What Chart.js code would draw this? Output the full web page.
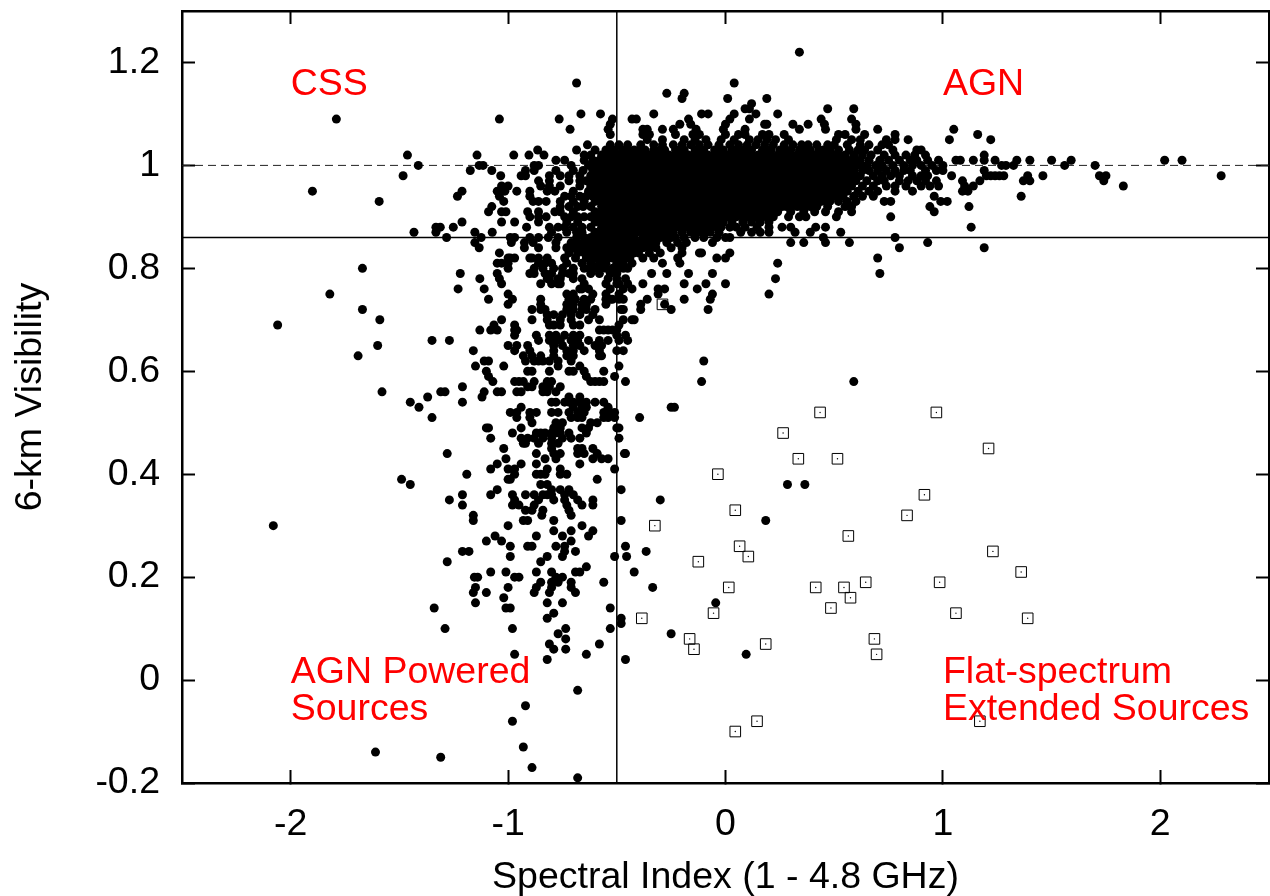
<!DOCTYPE html>
<html>
<head>
<meta charset="utf-8">
<style>
  html, body { margin: 0; padding: 0; background: #fff; overflow: hidden; }
  #wrap { width: 1270px; height: 896px; }
</style>
<script src="https://cdn.jsdelivr.net/npm/chart.js@4/dist/chart.umd.min.js"></script>
</head>
<body>
<div id="wrap"><canvas id="c" width="1270" height="896"></canvas></div>
<script>
const xTicks = [-2, -1, 0, 1, 2];
const yTicks = [-0.2, 0, 0.2, 0.4, 0.6, 0.8, 1, 1.2];

// cut lines and the unit visibility line
const cutIndex = -0.5;
const cutVisibility = 0.86;
const unitVisibility = 1;

const regionNames = ['CSS', 'AGN', 'AGN Powered', 'Sources', 'Flat-spectrum', 'Extended Sources'];
const regionX = [-2, 1, -2, -2, 1, 1];
const regionY = [1.156, 1.156, 0.014, -0.058, 0.014, -0.058];

// open squares: flat spectrum extended sources
const flatX = [-0.29, 0.435, 0.97, 0.265, 1.21, 0.335, 0.515, -0.035, 0.915, 0.835, 0.045, -0.325, 0.565, 0.065, 1.23, 0.105, -0.125, 1.36, 0.645, 0.985, 0.015, 0.415, 0.545, 0.575, 0.485, -0.055, 1.06, -0.385, 1.39, 0.685, -0.165, 0.185, -0.145, 0.695, 0.145, 1.17, 0.045];
const flatY = [0.73, 0.52, 0.52, 0.48, 0.45, 0.43, 0.43, 0.40, 0.36, 0.32, 0.33, 0.30, 0.28, 0.26, 0.25, 0.24, 0.23, 0.21, 0.19, 0.19, 0.18, 0.18, 0.18, 0.16, 0.14, 0.13, 0.13, 0.12, 0.12, 0.08, 0.08, 0.07, 0.06, 0.05, -0.08, -0.08, -0.10];

// filled dots, one row per visibility value: [visibility, [spectral indices]]
const dotRows = [
  [1.22, [0.34]],
  [1.16, [-0.685, 0.04]],
  [1.14, [-0.27, -0.19]],
  [1.13, [-0.20, 0.01, 0.19]],
  [1.12, [0.12]],
  [1.11, [0.09, 0.11, 0.47, 0.59]],
  [1.10, [-0.665, -0.575, -0.33, -0.11, -0.08, 0.04, 0.14, 0.24]],
  [1.09, [-1.79, -1.04, -0.765, -0.52, -0.43, -0.41, -0.17, 0.02, 0.11, 0.44, 0.58]],
  [1.08, [-0.53, -0.21, -0.16, 0.0, 0.18, 0.19, 0.31, 0.38, 0.455, 0.60]],
  [1.07, [-0.715, -0.54, -0.38, -0.36, -0.29, -0.24, -0.135, -0.01, 0.09, 0.34, 0.46, 0.60, 0.70, 1.05]],
  [1.06, [-0.53, -0.38, -0.35, -0.23, -0.15, -0.12, 0.0, 0.06, 0.09, 0.17, 0.20, 0.27, 0.52, 0.55, 0.64, 0.78, 1.16]],
  [1.05, [-0.36, -0.29, -0.19, -0.14, -0.09, -0.02, 0.04, 0.11, 0.15, 0.19, 0.23, 0.29, 0.51, 0.58, 0.62, 0.74, 0.78, 0.84, 1.03, 1.22]],
  [1.04, [-0.53, -0.635, -0.49, -0.45, -0.39, -0.33, -0.29, -0.24, -0.2, -0.16, -0.12, -0.08, -0.03, 0.02, 0.06, 0.1, 0.14, 0.18, 0.22, 0.27, 0.31, 0.35, 0.38, 0.42, 0.47, 0.5, 0.56, 0.62, 0.66, 0.72, 0.75]],
  [1.03, [-0.864, -0.685, -0.6, -0.55, -0.51, -0.47, -0.42, -0.37, -0.33, -0.28, -0.23, -0.19, -0.14, -0.1, -0.05, -0.01, 0.03, 0.08, 0.12, 0.17, 0.21, 0.25, 0.3, 0.34, 0.39, 0.43, 0.48, 0.52, 0.57, 0.61, 0.64, 0.7, 0.77, 0.88, 0.9]],
  [1.02, [-1.463, -1.143, -0.974, -0.904, -0.835, -0.65, -0.62, -0.57, -0.53, -0.49, -0.44, -0.4, -0.35, -0.31, -0.26, -0.21, -0.17, -0.12, -0.08, -0.03, 0.01, 0.06, 0.1, 0.15, 0.19, 0.24, 0.28, 0.33, 0.37, 0.41, 0.46, 0.5, 0.55, 0.59, 0.63, 0.67, 0.73, 0.78, 0.83, 0.87, 0.92, 1.19]],
  [1.01, [-0.78, -0.74, -0.65, -0.61, -0.58, -0.54, -0.5, -0.45, -0.41, -0.36, -0.32, -0.27, -0.23, -0.18, -0.14, -0.09, -0.05, 0.0, 0.04, 0.09, 0.13, 0.18, 0.22, 0.26, 0.31, 0.35, 0.4, 0.44, 0.49, 0.53, 0.58, 0.62, 0.66, 0.71, 0.75, 0.8, 0.85, 0.88, 0.93, 0.98, 1.06, 1.08, 1.14, 1.19, 1.24, 1.34, 1.40, 1.50, 1.59, 2.02, 2.10]],
  [1.00, [-1.413, -1.133, -1.115, -0.88, -0.86, -0.71, -0.63, -0.6, -0.56, -0.52, -0.47, -0.43, -0.38, -0.34, -0.29, -0.25, -0.2, -0.16, -0.11, -0.07, -0.02, 0.02, 0.07, 0.11, 0.16, 0.2, 0.24, 0.29, 0.33, 0.38, 0.42, 0.47, 0.51, 0.56, 0.6, 0.65, 0.69, 0.72, 0.77, 0.82, 0.86, 0.9, 0.95, 1.0, 1.27, 1.29, 1.325, 1.56, 1.70]],
  [0.99, [-1.174, -1.075, -0.92, -0.88, -0.78, -0.70, -0.655, -0.61, -0.57, -0.53, -0.48, -0.44, -0.39, -0.35, -0.3, -0.26, -0.21, -0.17, -0.12, -0.08, -0.03, 0.01, 0.06, 0.1, 0.14, 0.19, 0.23, 0.28, 0.32, 0.37, 0.41, 0.46, 0.5, 0.55, 0.59, 0.63, 0.66, 0.7, 0.74, 0.78, 0.82, 0.85, 0.92, 0.97, 1.0, 1.19]],
  [0.98, [-1.483, -1.034, -0.94, -0.92, -0.81, -0.76, -0.72, -0.67, -0.62, -0.58, -0.54, -0.5, -0.45, -0.41, -0.36, -0.32, -0.27, -0.23, -0.18, -0.14, -0.09, -0.05, 0.0, 0.04, 0.08, 0.13, 0.17, 0.22, 0.26, 0.31, 0.35, 0.4, 0.44, 0.49, 0.53, 0.57, 0.62, 0.68, 0.72, 0.76, 0.8, 0.86, 0.9, 0.93, 1.04, 1.20, 1.22, 1.24, 1.26, 1.28, 1.39, 1.46, 1.72, 1.75, 2.28]],
  [0.97, [-0.86, -0.81, -0.72, -0.67, -0.64, -0.59, -0.55, -0.51, -0.46, -0.42, -0.37, -0.33, -0.28, -0.24, -0.19, -0.15, -0.1, -0.06, -0.01, 0.03, 0.07, 0.12, 0.16, 0.21, 0.25, 0.3, 0.34, 0.39, 0.43, 0.47, 0.52, 0.56, 0.6, 0.65, 0.7, 0.73, 0.8, 0.84, 0.88, 0.92, 0.97, 1.09, 1.17, 1.37, 1.40, 1.74]],
  [0.96, [-1.03, -1.0, -0.85, -0.81, -0.76, -0.67, -0.62, -0.57, -0.53, -0.48, -0.44, -0.39, -0.35, -0.3, -0.26, -0.21, -0.17, -0.12, -0.08, -0.03, 0.01, 0.05, 0.1, 0.14, 0.19, 0.23, 0.28, 0.32, 0.37, 0.41, 0.45, 0.5, 0.54, 0.58, 0.63, 0.68, 0.74, 0.78, 0.83, 0.9, 0.94, 0.98, 1.10, 1.14, 1.83]],
  [0.95, [-1.90, -1.212, -1.05, -1.015, -0.96, -0.90, -0.82, -0.785, -0.70, -0.63, -0.59, -0.55, -0.5, -0.46, -0.41, -0.37, -0.32, -0.28, -0.23, -0.19, -0.14, -0.1, -0.05, -0.01, 0.04, 0.08, 0.12, 0.17, 0.21, 0.26, 0.3, 0.35, 0.39, 0.43, 0.48, 0.52, 0.56, 0.61, 0.66, 0.7, 0.78, 0.86, 1.09, 1.115]],
  [0.94, [-1.233, -1.04, -0.90, -0.74, -0.67, -0.61, -0.57, -0.52, -0.48, -0.43, -0.39, -0.34, -0.3, -0.25, -0.21, -0.16, -0.12, -0.07, -0.03, 0.02, 0.06, 0.11, 0.15, 0.19, 0.24, 0.28, 0.33, 0.37, 0.42, 0.46, 0.5, 0.54, 0.59, 0.63, 0.68, 0.96, 1.36]],
  [0.93, [-1.593, -1.02, -0.885, -0.86, -0.825, -0.76, -0.70, -0.65, -0.6, -0.55, -0.5, -0.46, -0.41, -0.37, -0.32, -0.28, -0.23, -0.19, -0.14, -0.1, -0.05, -0.01, 0.04, 0.08, 0.13, 0.17, 0.22, 0.26, 0.31, 0.35, 0.4, 0.44, 0.48, 0.52, 0.56, 0.6, 0.73, 0.76, 0.99, 1.02]],
  [0.92, [-1.075, -0.76, -0.655, -0.62, -0.57, -0.53, -0.48, -0.44, -0.39, -0.35, -0.3, -0.26, -0.21, -0.17, -0.12, -0.08, -0.03, 0.01, 0.06, 0.1, 0.15, 0.19, 0.24, 0.28, 0.33, 0.37, 0.42, 0.47, 0.55, 0.58, 0.94, 1.12]],
  [0.91, [-1.09, -1.03, -1.01, -0.91, -0.86, -0.785, -0.76, -0.7, -0.6, -0.55, -0.51, -0.46, -0.42, -0.37, -0.33, -0.28, -0.24, -0.19, -0.15, -0.1, -0.06, -0.01, 0.03, 0.08, 0.12, 0.17, 0.21, 0.24, 0.3, 0.36, 0.41, 0.46, 0.52, 0.58, 0.96]],
  [0.90, [-0.90, -0.86, -0.825, -0.68, -0.62, -0.57, -0.53, -0.48, -0.44, -0.39, -0.35, -0.3, -0.26, -0.21, -0.17, -0.12, -0.08, -0.03, 0.01, 0.05, 0.1, 0.14, 0.19, 0.22, 0.29, 0.34, 0.37, 0.51, 0.76]],
  [0.89, [-1.212, -1.03, -0.97, -0.86, -0.73, -0.68, -0.6, -0.55, -0.5, -0.46, -0.41, -0.37, -0.32, -0.28, -0.23, -0.19, -0.14, -0.1, -0.05, -0.01, 0.03, 0.08, 0.12, 0.16, 0.2]],
  [0.88, [-1.332, -1.312, -1.252, -0.915, -0.81, -0.74, -0.70, -0.62, -0.57, -0.52, -0.48, -0.43, -0.39, -0.34, -0.3, -0.25, -0.21, -0.16, -0.12, -0.07, -0.02, 0.02, 0.05, 0.09, 0.145, 0.2, 0.26, 0.30, 0.415, 0.46, 1.13]],
  [0.87, [-1.433, -1.332, -1.153, -1.073, -0.80, -0.73, -0.685, -0.6, -0.56, -0.51, -0.45, -0.41, -0.36, -0.31, -0.27, -0.2, -0.16, -0.11, -0.07, -0.03, 0.07, 0.12, 0.16, 0.2, 0.32, 0.39, 0.53]],
  [0.86, [-1.283, -1.124, -0.99, -0.97, -0.90, -0.86, -0.815, -0.77, -0.685, -0.62, -0.57, -0.52, -0.47, -0.42, -0.38, -0.33, -0.28, -0.23, -0.19, -0.14, -0.1, -0.04, 0.0, 0.02, 0.45, 0.78]],
  [0.85, [-1.153, -0.985, -0.925, -0.885, -0.78, -0.71, -0.65, -0.6, -0.55, -0.5, -0.46, -0.4, -0.35, -0.27, -0.22, -0.18, -0.06, 0.30, 0.36, 0.46, 0.57, 0.93]],
  [0.84, [-1.133, -0.925, -0.86, -0.78, -0.73, -0.70, -0.65, -0.6, -0.55, -0.52, -0.47, -0.43, -0.38, -0.32, -0.25, -0.2, 0.80, 1.19]],
  [0.83, [-1.04, -0.72, -0.68, -0.62, -0.57, -0.53, -0.49, -0.45, -0.4, -0.35, -0.3, -0.2, -0.12, -0.11, 0.02]],
  [0.82, [-1.0, -0.99, -0.97, -0.90, -0.89, -0.86, -0.82, -0.74, -0.69, -0.64, -0.60, -0.56, -0.52, -0.50, -0.46, -0.38, -0.33, -0.22, -0.04, 0.0, 0.70]],
  [0.81, [-1.05, -1.03, -1.0, -0.86, -0.83, -0.80, -0.73, -0.66, -0.62, -0.58, -0.55, -0.50, -0.47, -0.43, -0.29, -0.21, 0.24]],
  [0.80, [-1.67, -1.0, -0.88, -0.84, -0.79, -0.75, -0.70, -0.62, -0.58, -0.55, -0.49, -0.45]],
  [0.79, [-1.22, -1.05, -0.90, -0.88, -0.83, -0.80, -0.75, -0.72, -0.70, -0.62, -0.58, -0.53, -0.50, -0.34, -0.27, -0.17, -0.06, 0.71]],
  [0.78, [-1.13, -1.04, -0.82, -0.81, -0.77, -0.76, -0.70, -0.66, -0.54, -0.50, -0.46, 0.23]],
  [0.77, [-1.03, -0.85, -0.80, -0.77, -0.76, -0.65, -0.55, -0.50, -0.49, -0.45, -0.38, -0.19, -0.09, 0.0]],
  [0.76, [-1.23, -1.11, -0.67, -0.66, -0.63, -0.53, -0.47, -0.43, -0.31, -0.28, -0.13]],
  [0.75, [-1.82, -1.0, -0.73, -0.70, -0.61, -0.55, -0.49, -0.31, -0.06, 0.20]],
  [0.74, [-1.09, -0.98, -0.85, -0.72, -0.69, -0.65, -0.62, -0.55, -0.53, -0.52, -0.49, -0.47, -0.36, -0.19, -0.07]],
  [0.73, [-1.0, -0.85, -0.73, -0.70, -0.66, -0.64, -0.55, -0.39, -0.28]],
  [0.72, [-1.67, -0.89, -0.85, -0.83, -0.73, -0.70, -0.66, -0.64, -0.60, -0.48, -0.47, -0.39, -0.25, -0.08]],
  [0.71, [-0.82, -0.79, -0.75, -0.71, -0.67, -0.61]],
  [0.70, [-1.59, -1.03, -0.89, -0.82, -0.76, -0.71, -0.63, -0.58, -0.47, -0.43, -0.42]],
  [0.69, [-2.06, -1.065, -0.97, -0.81, -0.79, -0.76, -0.70, -0.67, -0.49]],
  [0.68, [-1.13, -1.08, -1.05, -0.97, -0.96, -0.58, -0.56, -0.54, -0.52, -0.50]],
  [0.67, [-0.97, -0.87, -0.81, -0.78, -0.74, -0.70, -0.67, -0.50, -0.46]],
  [0.66, [-1.35, -1.27, -0.86, -0.81, -0.78, -0.76, -0.71, -0.68, -0.63, -0.58, -0.54, -0.49, -0.45]],
  [0.65, [-1.60, -1.0, -0.96, -0.91, -0.79, -0.75, -0.70, -0.67, -0.60, -0.57]],
  [0.64, [-1.16, -0.97, -0.90, -0.79, -0.73, -0.70, -0.65, -0.58, -0.50, -0.47]],
  [0.63, [-1.69, -0.93, -0.89, -0.85, -0.79, -0.73, -0.70, -0.58, -0.57]],
  [0.62, [-1.11, -1.09, -0.92, -0.88, -0.86, -0.84, -0.81, -0.77, -0.71, -0.10]],
  [0.61, [-1.15, -1.02, -0.77, -0.67, -0.49]],
  [0.60, [-1.10, -0.91, -0.89, -0.81, -0.72, -0.70, -0.65, -0.56]],
  [0.59, [-1.09, -0.64, -0.51]],
  [0.58, [-1.07, -0.97, -0.95, -0.93, -0.88, -0.82, -0.80, -0.62, -0.60, -0.58, -0.56, -0.46, -0.11, 0.59]],
  [0.57, [-1.21, -0.91, -0.89, -0.84, -0.82, -0.81, -0.76]],
  [0.56, [-1.58, -1.31, -1.29, -1.11, -1.05, -1.03, -0.96, -0.94, -0.84, -0.82, -0.78]],
  [0.55, [-1.12, -1.37, -0.72, -0.67]],
  [0.54, [-1.45, -1.21, -0.80, -0.78, -0.74, -0.72, -0.70, -0.67, -0.64, -0.60, -0.56]],
  [0.53, [-1.41, -0.94, -0.70, -0.66, -0.64, -0.54, -0.235, -0.25]],
  [0.52, [-0.99, -0.96, -0.90, -0.87, -0.80, -0.77, -0.72, -0.68, -0.65, -0.56, -0.53, -0.51]],
  [0.51, [-1.35, -0.96, -0.90, -0.71, -0.68, -0.66, -0.56, -0.54, -0.51, -0.395]],
  [0.50, [-0.89, -0.78, -0.75, -0.62, -0.59]],
  [0.49, [-1.10, -1.09, -0.94, -0.79, -0.76, -0.66, -0.63, -0.50, -0.49]],
  [0.48, [-0.98, -0.87, -0.85, -0.83, -0.80, -0.78, -0.76, -0.72, -0.64]],
  [0.47, [-1.08, -0.94, -0.91, -0.88, -0.84, -0.80, -0.75, -0.71, -0.67, -0.49]],
  [0.46, [-0.93, -0.92, -0.86, -0.80, -0.77]],
  [0.45, [-1.02, -0.80, -0.68, -0.66, -0.61]],
  [0.44, [-1.28, -0.87, -0.79, -0.76, -0.68, -0.65, -0.59, -0.46, -0.465]],
  [0.43, [-1.01, -0.83, -0.78, -0.61, -0.57, -0.54]],
  [0.42, [-1.05, -0.94, -0.87, -0.67]],
  [0.41, [-1.08, -1.0, -0.97, -0.82, -0.76, -0.51]],
  [0.40, [-1.19, -0.97, -0.87, -0.85, -0.83, -0.76, -0.73]],
  [0.39, [-1.49, -1.0, -0.99, -0.59]],
  [0.38, [-1.45, -0.85, -0.82, 0.285, 0.365]],
  [0.37, [-1.05, -0.80, -0.76, -0.72, -0.48]],
  [0.36, [-1.21, -1.08, -0.98, -0.92, -0.88, -0.84, -0.82, -0.80, -0.74, -0.70]],
  [0.35, [-1.27, -0.97, -0.86, -0.79, -0.74, -0.68, -0.61, -0.30]],
  [0.34, [-1.21, -0.98, -0.95, -0.88, -0.73, -0.66, -0.61]],
  [0.33, [-0.92, -0.89, -0.84, -0.72]],
  [0.32, [-1.16, -0.845, -0.71]],
  [0.31, [-1.16, -0.93, -0.91, -0.79, -0.48, 0.185]],
  [0.30, [-2.08, -1.0, -0.66]],
  [0.29, [-0.79, -0.71, -0.61]],
  [0.28, [-1.06, -0.87, -0.75, -0.63]],
  [0.27, [-1.10, -1.03, -0.71]],
  [0.26, [-0.99, -0.91, -0.89, -0.78, -0.74, -0.46]],
  [0.25, [-1.21, -1.18, -0.74, -0.69, -0.365]],
  [0.24, [-0.99, -0.82, -0.75, -0.51, -0.455]],
  [0.23, [-1.28, -0.85]],
  [0.22, [-0.64]],
  [0.21, [-1.08, -1.01, -0.87, -0.80, -0.69, -0.67, -0.42]],
  [0.20, [-1.155, -1.14, -0.97, -0.95, -0.78, -0.75]],
  [0.19, [-0.85, -0.80, -0.77, -0.71, -0.56]],
  [0.18, [-1.15, -1.0, -0.87, -0.80, -0.71, -0.335]],
  [0.17, [-1.16, -1.10, -0.88, -0.81, -0.69]],
  [0.16, [-1.02]],
  [0.15, [-1.15, -0.82, -0.75, -0.045]],
  [0.14, [-1.34, -1.01, -0.99, -0.53]],
  [0.13, [-0.79]],
  [0.12, [-0.82, -0.48]],
  [0.11, [-0.48]],
  [0.10, [-1.29, -0.98, -0.735, -0.53]],
  [0.09, [-0.77, -0.25]],
  [0.08, [-0.735]],
  [0.07, [-0.81, -0.58]],
  [0.06, [-0.79, -0.735]],
  [0.05, [-0.97, -0.64, 0.095]],
  [0.04, [-0.82, -0.46]],
  [-0.02, [-0.68]],
  [-0.05, [-0.92]],
  [-0.08, [-0.98]],
  [-0.13, [-0.93]],
  [-0.14, [-1.61]],
  [-0.15, [-1.31]],
  [-0.17, [-0.89]],
  [-0.19, [-0.68]]
];

// the crowded core, second pass of dots read from the solid black area
const coreRows = [
  [1.03, [-0.53, -0.45, -0.39, -0.3, -0.21, -0.12, -0.03, 0.05, 0.1, 0.19, 0.27, 0.36, 0.45]],
  [1.02, [-0.55, -0.51, -0.46, -0.42, -0.37, -0.33, -0.28, -0.23, -0.19, -0.14, -0.1, -0.05, -0.01, 0.03, 0.08, 0.12, 0.17, 0.21, 0.26, 0.3, 0.35, 0.39, 0.43, 0.48, 0.52]],
  [1.01, [-0.56, -0.52, -0.47, -0.43, -0.38, -0.34, -0.29, -0.25, -0.2, -0.16, -0.11, -0.07, -0.02, 0.02, 0.07, 0.11, 0.16, 0.2, 0.24, 0.29, 0.33, 0.38, 0.42, 0.47, 0.51, 0.56, 0.6]],
  [1.00, [-0.58, -0.54, -0.49, -0.45, -0.4, -0.36, -0.31, -0.27, -0.22, -0.18, -0.13, -0.09, -0.04, 0.0, 0.05, 0.09, 0.13, 0.18, 0.22, 0.27, 0.31, 0.36, 0.4, 0.45, 0.49, 0.54, 0.58, 0.62]],
  [0.99, [-0.59, -0.55, -0.51, -0.46, -0.42, -0.37, -0.33, -0.28, -0.24, -0.19, -0.15, -0.1, -0.06, -0.01, 0.03, 0.08, 0.12, 0.17, 0.21, 0.26, 0.3, 0.35, 0.39, 0.44, 0.48, 0.53, 0.57]],
  [0.98, [-0.6, -0.56, -0.52, -0.47, -0.43, -0.38, -0.34, -0.29, -0.25, -0.2, -0.16, -0.11, -0.07, -0.02, 0.02, 0.06, 0.11, 0.15, 0.2, 0.24, 0.29, 0.33, 0.38, 0.42, 0.47, 0.51, 0.55, 0.6]],
  [0.97, [-0.61, -0.57, -0.53, -0.48, -0.44, -0.39, -0.35, -0.3, -0.26, -0.21, -0.17, -0.12, -0.08, -0.03, 0.01, 0.05, 0.1, 0.14, 0.19, 0.23, 0.28, 0.32, 0.37, 0.41, 0.45, 0.5, 0.54, 0.58]],
  [0.96, [-0.6, -0.55, -0.51, -0.46, -0.42, -0.37, -0.33, -0.28, -0.24, -0.19, -0.15, -0.1, -0.06, -0.01, 0.03, 0.08, 0.12, 0.17, 0.21, 0.26, 0.3, 0.35, 0.39, 0.43, 0.48, 0.52, 0.56]],
  [0.95, [-0.61, -0.57, -0.52, -0.48, -0.43, -0.39, -0.34, -0.3, -0.25, -0.21, -0.16, -0.12, -0.07, -0.03, 0.02, 0.06, 0.1, 0.15, 0.19, 0.24, 0.28, 0.33, 0.37, 0.41, 0.46, 0.5, 0.54]],
  [0.94, [-0.59, -0.55, -0.5, -0.46, -0.41, -0.37, -0.32, -0.28, -0.23, -0.19, -0.14, -0.1, -0.05, -0.01, 0.04, 0.08, 0.13, 0.17, 0.22, 0.26, 0.31, 0.35, 0.4, 0.44, 0.48, 0.52]],
  [0.93, [-0.58, -0.53, -0.48, -0.44, -0.39, -0.35, -0.3, -0.26, -0.21, -0.17, -0.12, -0.08, -0.03, 0.01, 0.06, 0.1, 0.15, 0.19, 0.24, 0.28, 0.33, 0.38, 0.42, 0.46]],
  [0.92, [-0.55, -0.5, -0.46, -0.41, -0.37, -0.32, -0.28, -0.23, -0.19, -0.14, -0.1, -0.05, -0.01, 0.03, 0.08, 0.12, 0.17, 0.21, 0.26, 0.3, 0.35, 0.39]],
  [0.91, [-0.57, -0.53, -0.48, -0.44, -0.39, -0.35, -0.3, -0.26, -0.21, -0.17, -0.12, -0.08, -0.03, 0.01, 0.05, 0.1, 0.14, 0.19, 0.23]],
  [0.90, [-0.59, -0.55, -0.5, -0.46, -0.41, -0.37, -0.32, -0.28, -0.23, -0.19, -0.14, -0.1, -0.05, -0.01, 0.03, 0.08, 0.12, 0.17]],
  [0.89, [-0.57, -0.53, -0.48, -0.43, -0.39, -0.34, -0.3, -0.25, -0.21, -0.16, -0.12, -0.07, -0.03]],
  [0.88, [-0.55, -0.5, -0.45, -0.41, -0.36, -0.32, -0.27, -0.23, -0.18, -0.14, -0.09, -0.04]],
  [0.87, [-0.66, -0.58, -0.53, -0.48, -0.43, -0.38, -0.33, -0.29, -0.24, -0.13, -0.09]],
  [0.86, [-0.65, -0.59, -0.54, -0.49, -0.44, -0.36, -0.3, -0.25]],
  [0.85, [-0.68, -0.62, -0.57, -0.52, -0.48, -0.43, -0.37, -0.32]],
  [0.84, [-0.67, -0.62, -0.58, -0.5, -0.45, -0.4, -0.35]],
  [0.83, [-0.65, -0.6, -0.55, -0.51, -0.47, -0.42]],
  [0.82, [-0.62, -0.58, -0.54, -0.48, -0.44]],
  [0.80, [-0.65, -0.6, -0.52, -0.47]],
  [0.94, [-0.71, -0.64]],
  [0.92, [-0.72, -0.68]],
  [0.90, [-0.74, -0.71, -0.65]],
  [0.88, [-0.77, -0.66]]
];

const dots = dotRows.concat(coreRows).flatMap(([v, xs]) => xs.map(x => ({ x: x, y: v })));
const flats = flatX.map((x, i) => ({ x: x, y: flatY[i] }));

const FONT = 'Liberation Sans, Arial, sans-serif';

// red region names, placed through the scales
const regionLabels = {
  id: 'regionLabels',
  afterDatasetsDraw(chart) {
    const c = chart.ctx;
    c.save();
    c.fillStyle = '#ff0000';
    c.font = '37.5px ' + FONT;
    c.textAlign = 'left';
    c.textBaseline = 'middle';
    regionNames.forEach((t, i) => {
      c.fillText(t, chart.scales.x.getPixelForValue(regionX[i]), chart.scales.y.getPixelForValue(regionY[i]));
    });
    c.restore();
  }
};

function fixedTicks(list) {
  return scale => { scale.ticks = list.map(v => ({ value: v })); };
}
// chart.js keeps room for half of the end tick labels, we do not want that
function fitTo(prop, size) {
  return s => {
    s[prop] = size;
    s.paddingTop = s.paddingBottom = s.paddingLeft = s.paddingRight = 0;
  };
}
const tickText = v => String(Number(v.toFixed(1)));
const gridOpts = { drawOnChartArea: false, tickLength: -13, tickWidth: 2, tickColor: '#000' };
const borderOpts = { color: '#000', width: 2.5 };

new Chart(document.getElementById('c'), {
  type: 'scatter',
  data: {
    datasets: [
      { data: flats, pointStyle: 'rect', pointRadius: 7.5, pointBorderWidth: 1, pointBorderColor: '#000', pointBackgroundColor: 'transparent', order: 1 },
      { data: flats, pointRadius: 0.7, pointBorderWidth: 0, pointBackgroundColor: '#000', order: 1 },
      { data: dots, pointRadius: 4.5, pointBorderWidth: 0, pointBackgroundColor: '#000', order: 2 },
      { data: [{ x: -2.5, y: unitVisibility }, { x: 2.5, y: unitVisibility }], showLine: true, borderColor: '#222', borderWidth: 1, borderDash: [8, 5], pointRadius: 0, order: 3 },
      { data: [{ x: -2.5, y: cutVisibility }, { x: 2.5, y: cutVisibility }], showLine: true, borderColor: '#000', borderWidth: 1.5, pointRadius: 0, order: 3 },
      { data: [{ x: cutIndex, y: -0.2 }, { x: cutIndex, y: 1.3 }], showLine: true, borderColor: '#000', borderWidth: 1.5, pointRadius: 0, order: 3 }
    ]
  },
  options: {
    responsive: false,
    animation: false,
    layout: { padding: 0, autoPadding: false },
    plugins: { legend: { display: false }, tooltip: { enabled: false }, title: { display: false } },
    scales: {
      x: {
        type: 'linear', position: 'bottom', min: -2.5, max: 2.5,
        afterBuildTicks: fixedTicks(xTicks),
        afterFit: fitTo('height', 113),
        grid: gridOpts, border: borderOpts,
        ticks: { color: '#000', font: { family: FONT, size: 37.5 }, padding: 32, maxRotation: 0, callback: tickText },
        title: { display: true, text: 'Spectral Index (1 - 4.8 GHz)', color: '#000', font: { family: FONT, size: 37.5, lineHeight: 1 }, padding: 0 }
      },
      x2: {
        type: 'linear', position: 'top', min: -2.5, max: 2.5,
        afterBuildTicks: fixedTicks(xTicks),
        afterFit: fitTo('height', 11),
        grid: gridOpts, border: borderOpts, ticks: { display: false }
      },
      y: {
        type: 'linear', position: 'left', min: -0.2, max: 1.3,
        afterBuildTicks: fixedTicks(yTicks),
        afterFit: fitTo('width', 182),
        grid: gridOpts, border: borderOpts,
        ticks: { color: '#000', font: { family: FONT, size: 37.5 }, padding: 35, callback: tickText },
        title: { display: true, text: '6-km Visibility', color: '#000', font: { family: FONT, size: 37.5, lineHeight: 1 }, padding: { top: 12, bottom: 0 } }
      },
      y2: {
        type: 'linear', position: 'right', min: -0.2, max: 1.3,
        afterBuildTicks: fixedTicks(yTicks),
        afterFit: fitTo('width', 1),
        grid: gridOpts, border: borderOpts, ticks: { display: false }
      }
    }
  },
  plugins: [regionLabels]
});
</script>
</body>
</html>
